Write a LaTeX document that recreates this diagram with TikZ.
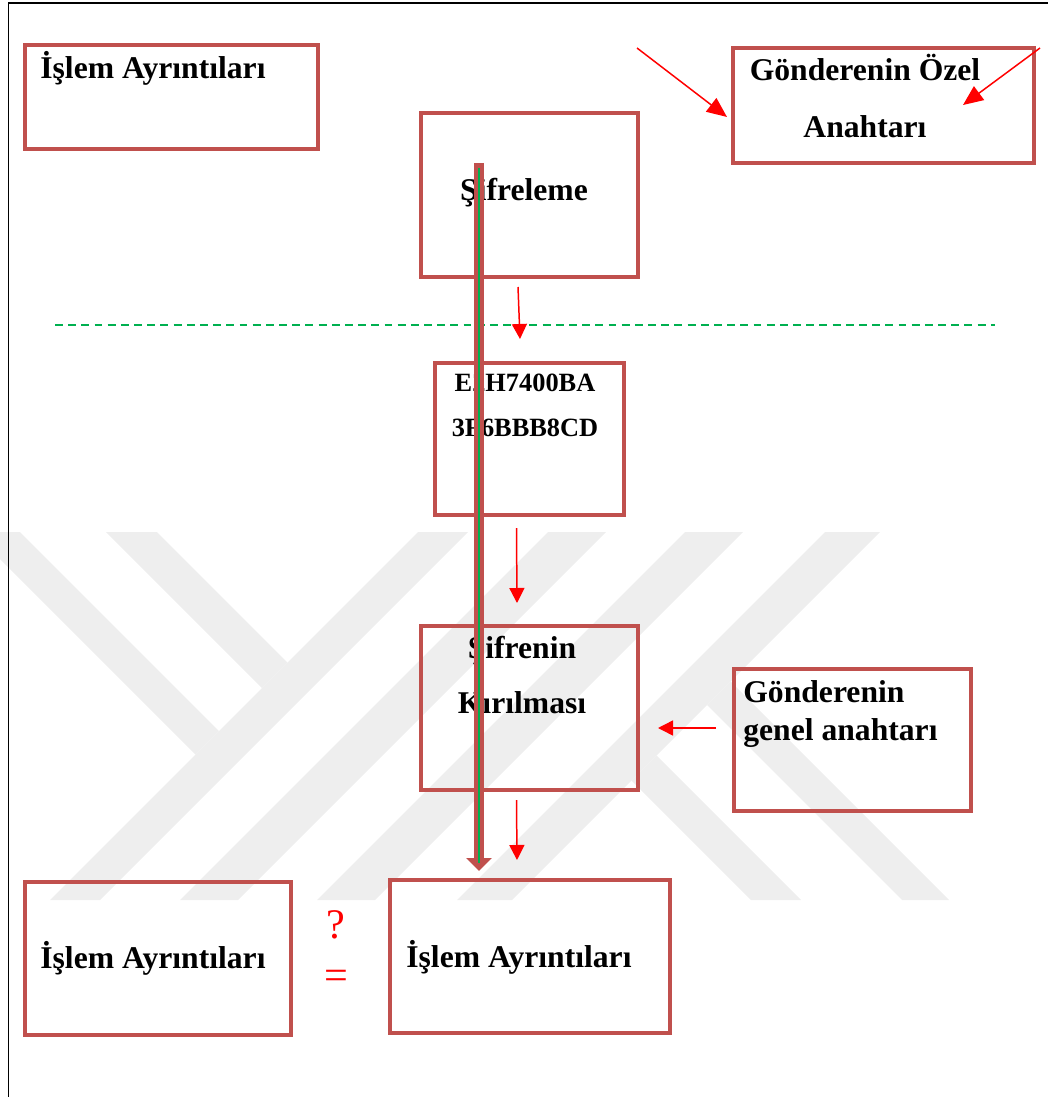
\documentclass[tikz,border=0pt]{standalone}
\usepackage{fontspec}
\setmainfont{Liberation Serif}
\usepackage{tikz}
\usetikzlibrary{arrows.meta,calc}
\definecolor{boxred}{RGB}{192,80,77}
\definecolor{sepgreen}{RGB}{0,176,80}
\definecolor{wmgray}{RGB}{238,238,238}
\tikzset{
  rbox/.style={draw=boxred, line width=2.4pt, inner sep=0pt, outer sep=0pt},
  txt/.style={inner sep=0pt, font=\fontsize{18}{#1}\selectfont\bfseries},
  txt/.default=32.3,
  redarr/.style={-{Triangle[length=3mm,width=3mm]}, draw=red, line width=0.85pt},
  redarrb/.style={-{Triangle[length=4mm,width=3.4mm]}, draw=red, line width=0.85pt},
  bigarr/.style={-{Triangle[length=2.6mm,width=5mm]}, draw=boxred, line width=6pt},
}

\begin{document}
\begin{tikzpicture}[x=0.2mm, y=-0.2mm]
  \useasboundingbox (0,0) rectangle (1048,1097);
  % watermark in the back
  \begin{scope}
    \clip (0,0) rectangle (1048,1097);
    \fill[wmgray] (418,532) -- (468,532) -- (100,900) -- (50,900) -- cycle;
    \fill[wmgray] (548,532) -- (606,532) -- (238,900) -- (180,900) -- cycle;
    \fill[wmgray] (685,532) -- (743,532) -- (375,900) -- (317,900) -- cycle;
    \fill[wmgray] (825,532) -- (880,532) -- (512,900) -- (457,900) -- cycle;
    \fill[wmgray] (-27,532) -- (20,532) -- (219,731) -- (195.5,754.5) -- cycle;
    \fill[wmgray] (106,532) -- (157,532) -- (287.5,662.5) -- (262,688) -- cycle;
    \fill[wmgray] (707,705) -- (730.5,681.5) -- (949,900) -- (902,900) -- cycle;
    \fill[wmgray] (631.5,780.5) -- (656.5,755.5) -- (801,900) -- (751,900) -- cycle;
  \end{scope}
  % frame
  \draw[line width=1.1pt] (8.5,1097) -- (8.5,3) -- (1048,3);
  % separator
  \draw[sepgreen, line width=0.85pt, dash pattern=on 4.5pt off 3pt] (55,325) -- (995,325);

  % boxes
  \node[rbox, minimum width=58.6mm, minimum height=20.8mm] (islemA) at (171.5,97) {};
  \node[rbox, minimum width=60.2mm, minimum height=23mm] (gozel) at (883.5,105.5) {};
  \node[rbox, minimum width=43.4mm, minimum height=32.8mm] (sifre) at (529.5,195) {};
  \node[rbox, minimum width=37.8mm, minimum height=30.4mm] (e2h) at (529.5,439) {};
  \node[rbox, minimum width=43.4mm, minimum height=32.8mm] (kir) at (529.5,708) {};
  \node[rbox, minimum width=47.4mm, minimum height=28.4mm] (genel) at (852.5,740) {};
  \node[rbox, minimum width=53.2mm, minimum height=30.6mm] (islemB) at (158,958.5) {};
  \node[rbox, minimum width=56mm, minimum height=30.6mm] (islemC) at (530,956.5) {};

  % texts (base = last line)
  \node[txt, anchor=base west] (islemA-t) at (40,79) {İşlem Ayrıntıları};
  \node[txt, align=center, anchor=base] (gozel-t) at (865,137) {Gönderenin Özel\\Anahtarı};
  \node[txt, anchor=base] (sifre-t) at (524,200) {Şifreleme};
  \node[inner sep=0pt, font=\fontsize{15}{25.5}\selectfont\bfseries, align=center, anchor=base] (e2h-t) at (525,436) {E2H7400BA\\3F6BBB8CD};
  \node[txt=31.2, align=center, anchor=base] (kir-t) at (522,713) {Şifrenin\\Kırılması};
  \node[txt=21.5, align=left, anchor=base west] (genel-t) at (743,740) {Gönderenin\\genel anahtarı};
  \node[txt, anchor=base west] (islemB-t) at (40,968) {İşlem Ayrıntıları};
  \node[txt, anchor=base west] (islemC-t) at (406,967) {İşlem Ayrıntıları};
  \node[inner sep=0pt, font=\fontsize{24}{28.9}\selectfont, text=red, align=center, anchor=base] (neq) at (336,989) {?\\=};

  % red arrows
  \coordinate (k1) at (637,48);
  \coordinate (k2) at (1040,48);
  \draw[redarrb] (k1) -- ($(gozel.west)+(-6,11.5)$);
  \draw[redarrb] (k2) -- ($(gozel.center)+(79.5,-0.5)$);
  \draw[redarr] ($(sifre.south)+(-11.5,10)$) -- ($(e2h.north)+(-9.5,-24)$);
  \draw[redarr] ($(e2h.south)+(-13,13)$) -- ($(kir.north)+(-12.5,-23)$);
  \draw[redarr] ($(kir.south)+(-13,10)$) -- ($(islemC.north)+(-13,-20)$);
  \draw[redarr] ($(genel.west)+(-18,-12)$) -- ($(kir.east)+(20,20)$);

  % thick arrow on top
  \draw[bigarr] ($(sifre.north)+(-50.5,50)$) -- ($(islemC.north)+(-51,-9)$);
  \draw[sepgreen, line width=0.7pt] ($(sifre.north)+(-50.5,55)$) -- ($(islemC.north)+(-51,-17)$);
\end{tikzpicture}
\end{document}
